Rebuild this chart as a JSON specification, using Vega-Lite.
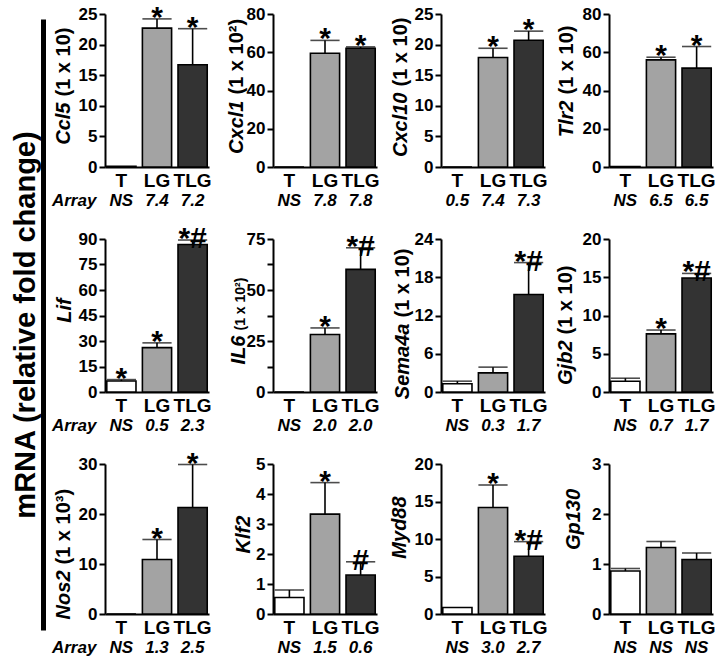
{
"$schema":"https://vega.github.io/schema/vega-lite/v6.json",
"padding":{"left":10,"top":2,"right":0,"bottom":0},
"datasets":{"d":[
{"gene":"Ccl5","group":"T","mean":0.12,"upper":0.12,"star":"","array":"NS"},
{"gene":"Ccl5","group":"LG","mean":22.7,"upper":24.2,"star":"*","array":"7.4"},
{"gene":"Ccl5","group":"TLG","mean":16.7,"upper":22.6,"star":"*","array":"7.2"},
{"gene":"Cxcl1","group":"T","mean":0,"upper":0,"star":"","array":"NS"},
{"gene":"Cxcl1","group":"LG","mean":59.5,"upper":66.2,"star":"*","array":"7.8"},
{"gene":"Cxcl1","group":"TLG","mean":62.1,"upper":62.8,"star":"*","array":"7.8"},
{"gene":"Cxcl10","group":"T","mean":0,"upper":0,"star":"","array":"0.5"},
{"gene":"Cxcl10","group":"LG","mean":17.9,"upper":19.4,"star":"*","array":"7.4"},
{"gene":"Cxcl10","group":"TLG","mean":20.7,"upper":22.2,"star":"*","array":"7.3"},
{"gene":"Tlr2","group":"T","mean":0.3,"upper":0.3,"star":"","array":"NS"},
{"gene":"Tlr2","group":"LG","mean":56,"upper":57.4,"star":"*","array":"6.5"},
{"gene":"Tlr2","group":"TLG","mean":51.7,"upper":63,"star":"*","array":"6.5"},
{"gene":"Lif","group":"T","mean":6.5,"upper":7.3,"star":"*","array":"NS"},
{"gene":"Lif","group":"LG","mean":26.1,"upper":28.9,"star":"*","array":"0.5"},
{"gene":"Lif","group":"TLG","mean":86.8,"upper":89.4,"star":"*#","array":"2.3"},
{"gene":"IL6","group":"T","mean":0,"upper":0,"star":"","array":"NS"},
{"gene":"IL6","group":"LG","mean":28.2,"upper":31.4,"star":"*","array":"2.0"},
{"gene":"IL6","group":"TLG","mean":60.1,"upper":70.7,"star":"*#","array":"2.0"},
{"gene":"Sema4a","group":"T","mean":1.3,"upper":1.7,"star":"","array":"NS"},
{"gene":"Sema4a","group":"LG","mean":3.0,"upper":3.9,"star":"","array":"0.3"},
{"gene":"Sema4a","group":"TLG","mean":15.3,"upper":20.3,"star":"*#","array":"1.7"},
{"gene":"Gjb2","group":"T","mean":1.4,"upper":1.8,"star":"","array":"NS"},
{"gene":"Gjb2","group":"LG","mean":7.6,"upper":8.1,"star":"*","array":"0.7"},
{"gene":"Gjb2","group":"TLG","mean":14.9,"upper":15.5,"star":"*#","array":"1.7"},
{"gene":"Nos2","group":"T","mean":0,"upper":0,"star":"","array":"NS"},
{"gene":"Nos2","group":"LG","mean":10.9,"upper":14.9,"star":"*","array":"1.3"},
{"gene":"Nos2","group":"TLG","mean":21.3,"upper":29.9,"star":"*","array":"2.5"},
{"gene":"Klf2","group":"T","mean":0.55,"upper":0.8,"star":"","array":"NS"},
{"gene":"Klf2","group":"LG","mean":3.33,"upper":4.38,"star":"*","array":"1.5"},
{"gene":"Klf2","group":"TLG","mean":1.3,"upper":1.74,"star":"#","array":"0.6"},
{"gene":"Myd88","group":"T","mean":0.87,"upper":0.87,"star":"","array":"NS"},
{"gene":"Myd88","group":"LG","mean":14.2,"upper":17.2,"star":"*","array":"3.0"},
{"gene":"Myd88","group":"TLG","mean":7.7,"upper":9.65,"star":"*#","array":"2.7"},
{"gene":"Gp130","group":"T","mean":0.86,"upper":0.91,"star":"","array":"NS"},
{"gene":"Gp130","group":"LG","mean":1.33,"upper":1.45,"star":"","array":"NS"},
{"gene":"Gp130","group":"TLG","mean":1.09,"upper":1.22,"star":"","array":"NS"}
]},
"data":{"name":"d"},
"spacing":7,
"hconcat":[
{"width":1,"height":616,
 "transform":[{"filter":"datum.gene === 'Ccl5' && datum.group === 'LG'"}],
 "mark":{"type":"rule","opacity":0},
 "encoding":{"y":{"field":"mean","type":"quantitative","scale":{"range":[616,5]},"axis":{"domainWidth":5,"labels":false,"ticks":false,"title":"mRNA (relative fold change)","titleFont":"Liberation Sans","titleFontSize":29,"titleFontWeight":"bold","titleBaseline":"bottom","titlePadding":3}}}
},
{"columns":4,"bounds":"flush","spacing":{"row":72,"column":64},
 "concat":[
{"width":104,"height":153,"transform":[{"filter":"datum.gene === 'Ccl5'"}],
 "encoding":{"x":{"field":"group","type":"nominal","sort":["T","LG","TLG"],"scale":{"paddingInner":0.18,"paddingOuter":0.05},"axis":{"title":null}}},
 "layer":[
  {"mark":{"type":"bar","stroke":"black","strokeWidth":1.6},"encoding":{"y":{"field":"mean","type":"quantitative","scale":{"domain":[0,25]},"axis":{"values":[0,5,10,15,20,25],"title":"Ccl5","titleFontStyle":"italic","titleX":-36,"titleY":88,"titleAlign":"right"}},"fill":{"field":"group","type":"nominal","scale":{"domain":["T","LG","TLG"],"range":["#ffffff","#a3a3a3","#333333"]},"legend":null}}},
  {"transform":[{"filter":"datum.upper > datum.mean"}],"mark":{"type":"rule","strokeWidth":1.6,"color":"black"},"encoding":{"y":{"field":"mean","type":"quantitative","scale":{"domain":[0,25]},"axis":{"orient":"left","title":"(1 x 10)","domain":false,"ticks":false,"labels":false,"titleX":-36,"titleY":82,"titleAlign":"left"}},"y2":{"field":"upper"}}},
  {"transform":[{"filter":"datum.upper > datum.mean"}],"mark":{"type":"tick","thickness":1.6,"color":"black"},"encoding":{"y":{"field":"upper","type":"quantitative","scale":{"domain":[0,25]},"axis":null}}},
  {"mark":{"type":"text","fontSize":30,"fontWeight":"bold","baseline":"alphabetic","dy":8},"encoding":{"y":{"field":"upper","type":"quantitative","scale":{"domain":[0,25]},"axis":null},"text":{"field":"star"}}},
  {"mark":{"type":"text","fontSize":17,"fontWeight":"bold","fontStyle":"italic","baseline":"middle","dy":34},"encoding":{"y":{"datum":0,"type":"quantitative","scale":{"domain":[0,25]},"axis":null},"text":{"field":"array"}}},
  {"transform":[{"filter":"datum.group === 'T'"}],"mark":{"type":"text","fontSize":17,"fontWeight":"bold","fontStyle":"italic","baseline":"middle","align":"right","dy":34,"dx":-25},"encoding":{"y":{"datum":0,"type":"quantitative","scale":{"domain":[0,25]},"axis":null},"text":{"value":"Array"}}}
 ],"resolve":{"axis":{"y":"independent"}}},
{"width":104,"height":153,"transform":[{"filter":"datum.gene === 'Cxcl1'"}],
 "encoding":{"x":{"field":"group","type":"nominal","sort":["T","LG","TLG"],"scale":{"paddingInner":0.18,"paddingOuter":0.05},"axis":{"title":null}}},
 "layer":[
  {"mark":{"type":"bar","stroke":"black","strokeWidth":1.6},"encoding":{"y":{"field":"mean","type":"quantitative","scale":{"domain":[0,80]},"axis":{"values":[0,20,40,60,80],"title":"Cxcl1","titleFontStyle":"italic","titleX":-31,"titleY":86,"titleAlign":"right"}},"fill":{"field":"group","type":"nominal","scale":{"domain":["T","LG","TLG"],"range":["#ffffff","#a3a3a3","#333333"]},"legend":null}}},
  {"transform":[{"filter":"datum.upper > datum.mean"}],"mark":{"type":"rule","strokeWidth":1.6,"color":"black"},"encoding":{"y":{"field":"mean","type":"quantitative","scale":{"domain":[0,80]},"axis":{"orient":"left","title":"(1 x 10²)","domain":false,"ticks":false,"labels":false,"titleX":-31,"titleY":80,"titleAlign":"left"}},"y2":{"field":"upper"}}},
  {"transform":[{"filter":"datum.upper > datum.mean"}],"mark":{"type":"tick","thickness":1.6,"color":"black"},"encoding":{"y":{"field":"upper","type":"quantitative","scale":{"domain":[0,80]},"axis":null}}},
  {"mark":{"type":"text","fontSize":30,"fontWeight":"bold","baseline":"alphabetic","dy":8},"encoding":{"y":{"field":"upper","type":"quantitative","scale":{"domain":[0,80]},"axis":null},"text":{"field":"star"}}},
  {"mark":{"type":"text","fontSize":17,"fontWeight":"bold","fontStyle":"italic","baseline":"middle","dy":34},"encoding":{"y":{"datum":0,"type":"quantitative","scale":{"domain":[0,80]},"axis":null},"text":{"field":"array"}}}
 ],"resolve":{"axis":{"y":"independent"}}},
{"width":104,"height":153,"transform":[{"filter":"datum.gene === 'Cxcl10'"}],
 "encoding":{"x":{"field":"group","type":"nominal","sort":["T","LG","TLG"],"scale":{"paddingInner":0.18,"paddingOuter":0.05},"axis":{"title":null}}},
 "layer":[
  {"mark":{"type":"bar","stroke":"black","strokeWidth":1.6},"encoding":{"y":{"field":"mean","type":"quantitative","scale":{"domain":[0,25]},"axis":{"values":[0,5,10,15,20,25],"title":"Cxcl10","titleFontStyle":"italic","titleX":-35,"titleY":78,"titleAlign":"right"}},"fill":{"field":"group","type":"nominal","scale":{"domain":["T","LG","TLG"],"range":["#ffffff","#a3a3a3","#333333"]},"legend":null}}},
  {"transform":[{"filter":"datum.upper > datum.mean"}],"mark":{"type":"rule","strokeWidth":1.6,"color":"black"},"encoding":{"y":{"field":"mean","type":"quantitative","scale":{"domain":[0,25]},"axis":{"orient":"left","title":"(1 x 10)","domain":false,"ticks":false,"labels":false,"titleX":-35,"titleY":72,"titleAlign":"left"}},"y2":{"field":"upper"}}},
  {"transform":[{"filter":"datum.upper > datum.mean"}],"mark":{"type":"tick","thickness":1.6,"color":"black"},"encoding":{"y":{"field":"upper","type":"quantitative","scale":{"domain":[0,25]},"axis":null}}},
  {"mark":{"type":"text","fontSize":30,"fontWeight":"bold","baseline":"alphabetic","dy":8},"encoding":{"y":{"field":"upper","type":"quantitative","scale":{"domain":[0,25]},"axis":null},"text":{"field":"star"}}},
  {"mark":{"type":"text","fontSize":17,"fontWeight":"bold","fontStyle":"italic","baseline":"middle","dy":34},"encoding":{"y":{"datum":0,"type":"quantitative","scale":{"domain":[0,25]},"axis":null},"text":{"field":"array"}}}
 ],"resolve":{"axis":{"y":"independent"}}},
{"width":104,"height":153,"transform":[{"filter":"datum.gene === 'Tlr2'"}],
 "encoding":{"x":{"field":"group","type":"nominal","sort":["T","LG","TLG"],"scale":{"paddingInner":0.18,"paddingOuter":0.05},"axis":{"title":null}}},
 "layer":[
  {"mark":{"type":"bar","stroke":"black","strokeWidth":1.6},"encoding":{"y":{"field":"mean","type":"quantitative","scale":{"domain":[0,80]},"axis":{"values":[0,20,40,60,80],"title":"Tlr2","titleFontStyle":"italic","titleX":-37,"titleY":86,"titleAlign":"right"}},"fill":{"field":"group","type":"nominal","scale":{"domain":["T","LG","TLG"],"range":["#ffffff","#a3a3a3","#333333"]},"legend":null}}},
  {"transform":[{"filter":"datum.upper > datum.mean"}],"mark":{"type":"rule","strokeWidth":1.6,"color":"black"},"encoding":{"y":{"field":"mean","type":"quantitative","scale":{"domain":[0,80]},"axis":{"orient":"left","title":"(1 x 10)","domain":false,"ticks":false,"labels":false,"titleX":-37,"titleY":80,"titleAlign":"left"}},"y2":{"field":"upper"}}},
  {"transform":[{"filter":"datum.upper > datum.mean"}],"mark":{"type":"tick","thickness":1.6,"color":"black"},"encoding":{"y":{"field":"upper","type":"quantitative","scale":{"domain":[0,80]},"axis":null}}},
  {"mark":{"type":"text","fontSize":30,"fontWeight":"bold","baseline":"alphabetic","dy":8},"encoding":{"y":{"field":"upper","type":"quantitative","scale":{"domain":[0,80]},"axis":null},"text":{"field":"star"}}},
  {"mark":{"type":"text","fontSize":17,"fontWeight":"bold","fontStyle":"italic","baseline":"middle","dy":34},"encoding":{"y":{"datum":0,"type":"quantitative","scale":{"domain":[0,80]},"axis":null},"text":{"field":"array"}}}
 ],"resolve":{"axis":{"y":"independent"}}},
{"width":104,"height":153,"transform":[{"filter":"datum.gene === 'Lif'"}],
 "encoding":{"x":{"field":"group","type":"nominal","sort":["T","LG","TLG"],"scale":{"paddingInner":0.18,"paddingOuter":0.05},"axis":{"title":null}}},
 "layer":[
  {"mark":{"type":"bar","stroke":"black","strokeWidth":1.6},"encoding":{"y":{"field":"mean","type":"quantitative","scale":{"domain":[0,90]},"axis":{"values":[0,15,30,45,60,75,90],"title":"Lif","titleFontStyle":"italic","titleX":-35,"titleY":71,"titleAlign":"center"}},"fill":{"field":"group","type":"nominal","scale":{"domain":["T","LG","TLG"],"range":["#ffffff","#a3a3a3","#333333"]},"legend":null}}},
  {"transform":[{"filter":"datum.upper > datum.mean"}],"mark":{"type":"rule","strokeWidth":1.6,"color":"black"},"encoding":{"y":{"field":"mean","type":"quantitative","scale":{"domain":[0,90]},"axis":null},"y2":{"field":"upper"}}},
  {"transform":[{"filter":"datum.upper > datum.mean"}],"mark":{"type":"tick","thickness":1.6,"color":"black"},"encoding":{"y":{"field":"upper","type":"quantitative","scale":{"domain":[0,90]},"axis":null}}},
  {"mark":{"type":"text","fontSize":30,"fontWeight":"bold","baseline":"alphabetic","dy":8},"encoding":{"y":{"field":"upper","type":"quantitative","scale":{"domain":[0,90]},"axis":null},"text":{"field":"star"}}},
  {"mark":{"type":"text","fontSize":17,"fontWeight":"bold","fontStyle":"italic","baseline":"middle","dy":34},"encoding":{"y":{"datum":0,"type":"quantitative","scale":{"domain":[0,90]},"axis":null},"text":{"field":"array"}}},
  {"transform":[{"filter":"datum.group === 'T'"}],"mark":{"type":"text","fontSize":17,"fontWeight":"bold","fontStyle":"italic","baseline":"middle","align":"right","dy":34,"dx":-25},"encoding":{"y":{"datum":0,"type":"quantitative","scale":{"domain":[0,90]},"axis":null},"text":{"value":"Array"}}}
 ],"resolve":{"axis":{"y":"independent"}}},
{"width":104,"height":153,"transform":[{"filter":"datum.gene === 'IL6'"}],
 "encoding":{"x":{"field":"group","type":"nominal","sort":["T","LG","TLG"],"scale":{"paddingInner":0.18,"paddingOuter":0.05},"axis":{"title":null}}},
 "layer":[
  {"mark":{"type":"bar","stroke":"black","strokeWidth":1.6},"encoding":{"y":{"field":"mean","type":"quantitative","scale":{"domain":[0,75]},"axis":{"values":[0,12.5,25,37.5,50,62.5,75],"labelExpr":"datum.value % 25 === 0 ? datum.label : ''","title":"IL6","titleFontStyle":"italic","titleX":-29,"titleY":96,"titleAlign":"right"}},"fill":{"field":"group","type":"nominal","scale":{"domain":["T","LG","TLG"],"range":["#ffffff","#a3a3a3","#333333"]},"legend":null}}},
  {"transform":[{"filter":"datum.upper > datum.mean"}],"mark":{"type":"rule","strokeWidth":1.6,"color":"black"},"encoding":{"y":{"field":"mean","type":"quantitative","scale":{"domain":[0,75]},"axis":{"orient":"left","title":"(1 x 10²)","titleFontSize":14,"domain":false,"ticks":false,"labels":false,"titleX":-29,"titleY":91,"titleAlign":"left"}},"y2":{"field":"upper"}}},
  {"transform":[{"filter":"datum.upper > datum.mean"}],"mark":{"type":"tick","thickness":1.6,"color":"black"},"encoding":{"y":{"field":"upper","type":"quantitative","scale":{"domain":[0,75]},"axis":null}}},
  {"mark":{"type":"text","fontSize":30,"fontWeight":"bold","baseline":"alphabetic","dy":8},"encoding":{"y":{"field":"upper","type":"quantitative","scale":{"domain":[0,75]},"axis":null},"text":{"field":"star"}}},
  {"mark":{"type":"text","fontSize":17,"fontWeight":"bold","fontStyle":"italic","baseline":"middle","dy":34},"encoding":{"y":{"datum":0,"type":"quantitative","scale":{"domain":[0,75]},"axis":null},"text":{"field":"array"}}}
 ],"resolve":{"axis":{"y":"independent"}}},
{"width":104,"height":153,"transform":[{"filter":"datum.gene === 'Sema4a'"}],
 "encoding":{"x":{"field":"group","type":"nominal","sort":["T","LG","TLG"],"scale":{"paddingInner":0.18,"paddingOuter":0.05},"axis":{"title":null}}},
 "layer":[
  {"mark":{"type":"bar","stroke":"black","strokeWidth":1.6},"encoding":{"y":{"field":"mean","type":"quantitative","scale":{"domain":[0,24]},"axis":{"values":[0,6,12,18,24],"title":"Sema4a","titleFontStyle":"italic","titleX":-33,"titleY":84,"titleAlign":"right"}},"fill":{"field":"group","type":"nominal","scale":{"domain":["T","LG","TLG"],"range":["#ffffff","#a3a3a3","#333333"]},"legend":null}}},
  {"transform":[{"filter":"datum.upper > datum.mean"}],"mark":{"type":"rule","strokeWidth":1.6,"color":"black"},"encoding":{"y":{"field":"mean","type":"quantitative","scale":{"domain":[0,24]},"axis":{"orient":"left","title":"(1 x 10)","domain":false,"ticks":false,"labels":false,"titleX":-33,"titleY":78,"titleAlign":"left"}},"y2":{"field":"upper"}}},
  {"transform":[{"filter":"datum.upper > datum.mean"}],"mark":{"type":"tick","thickness":1.6,"color":"black"},"encoding":{"y":{"field":"upper","type":"quantitative","scale":{"domain":[0,24]},"axis":null}}},
  {"mark":{"type":"text","fontSize":30,"fontWeight":"bold","baseline":"alphabetic","dy":8},"encoding":{"y":{"field":"upper","type":"quantitative","scale":{"domain":[0,24]},"axis":null},"text":{"field":"star"}}},
  {"mark":{"type":"text","fontSize":17,"fontWeight":"bold","fontStyle":"italic","baseline":"middle","dy":34},"encoding":{"y":{"datum":0,"type":"quantitative","scale":{"domain":[0,24]},"axis":null},"text":{"field":"array"}}}
 ],"resolve":{"axis":{"y":"independent"}}},
{"width":104,"height":153,"transform":[{"filter":"datum.gene === 'Gjb2'"}],
 "encoding":{"x":{"field":"group","type":"nominal","sort":["T","LG","TLG"],"scale":{"paddingInner":0.18,"paddingOuter":0.05},"axis":{"title":null}}},
 "layer":[
  {"mark":{"type":"bar","stroke":"black","strokeWidth":1.6},"encoding":{"y":{"field":"mean","type":"quantitative","scale":{"domain":[0,20]},"axis":{"values":[0,5,10,15,20],"title":"Gjb2","titleFontStyle":"italic","titleX":-38,"titleY":101,"titleAlign":"right"}},"fill":{"field":"group","type":"nominal","scale":{"domain":["T","LG","TLG"],"range":["#ffffff","#a3a3a3","#333333"]},"legend":null}}},
  {"transform":[{"filter":"datum.upper > datum.mean"}],"mark":{"type":"rule","strokeWidth":1.6,"color":"black"},"encoding":{"y":{"field":"mean","type":"quantitative","scale":{"domain":[0,20]},"axis":{"orient":"left","title":"(1 x 10)","domain":false,"ticks":false,"labels":false,"titleX":-38,"titleY":95,"titleAlign":"left"}},"y2":{"field":"upper"}}},
  {"transform":[{"filter":"datum.upper > datum.mean"}],"mark":{"type":"tick","thickness":1.6,"color":"black"},"encoding":{"y":{"field":"upper","type":"quantitative","scale":{"domain":[0,20]},"axis":null}}},
  {"mark":{"type":"text","fontSize":30,"fontWeight":"bold","baseline":"alphabetic","dy":8},"encoding":{"y":{"field":"upper","type":"quantitative","scale":{"domain":[0,20]},"axis":null},"text":{"field":"star"}}},
  {"mark":{"type":"text","fontSize":17,"fontWeight":"bold","fontStyle":"italic","baseline":"middle","dy":34},"encoding":{"y":{"datum":0,"type":"quantitative","scale":{"domain":[0,20]},"axis":null},"text":{"field":"array"}}}
 ],"resolve":{"axis":{"y":"independent"}}},
{"width":104,"height":150,"transform":[{"filter":"datum.gene === 'Nos2'"}],
 "encoding":{"x":{"field":"group","type":"nominal","sort":["T","LG","TLG"],"scale":{"paddingInner":0.18,"paddingOuter":0.05},"axis":{"title":null}}},
 "layer":[
  {"mark":{"type":"bar","stroke":"black","strokeWidth":1.6},"encoding":{"y":{"field":"mean","type":"quantitative","scale":{"domain":[0,30]},"axis":{"values":[0,10,20,30],"title":"Nos2","titleFontStyle":"italic","titleX":-36,"titleY":106,"titleAlign":"right"}},"fill":{"field":"group","type":"nominal","scale":{"domain":["T","LG","TLG"],"range":["#ffffff","#a3a3a3","#333333"]},"legend":null}}},
  {"transform":[{"filter":"datum.upper > datum.mean"}],"mark":{"type":"rule","strokeWidth":1.6,"color":"black"},"encoding":{"y":{"field":"mean","type":"quantitative","scale":{"domain":[0,30]},"axis":{"orient":"left","title":"(1 x 10³)","domain":false,"ticks":false,"labels":false,"titleX":-36,"titleY":100,"titleAlign":"left"}},"y2":{"field":"upper"}}},
  {"transform":[{"filter":"datum.upper > datum.mean"}],"mark":{"type":"tick","thickness":1.6,"color":"black"},"encoding":{"y":{"field":"upper","type":"quantitative","scale":{"domain":[0,30]},"axis":null}}},
  {"mark":{"type":"text","fontSize":30,"fontWeight":"bold","baseline":"alphabetic","dy":8},"encoding":{"y":{"field":"upper","type":"quantitative","scale":{"domain":[0,30]},"axis":null},"text":{"field":"star"}}},
  {"mark":{"type":"text","fontSize":17,"fontWeight":"bold","fontStyle":"italic","baseline":"middle","dy":34},"encoding":{"y":{"datum":0,"type":"quantitative","scale":{"domain":[0,30]},"axis":null},"text":{"field":"array"}}},
  {"transform":[{"filter":"datum.group === 'T'"}],"mark":{"type":"text","fontSize":17,"fontWeight":"bold","fontStyle":"italic","baseline":"middle","align":"right","dy":34,"dx":-25},"encoding":{"y":{"datum":0,"type":"quantitative","scale":{"domain":[0,30]},"axis":null},"text":{"value":"Array"}}}
 ],"resolve":{"axis":{"y":"independent"}}},
{"width":104,"height":150,"transform":[{"filter":"datum.gene === 'Klf2'"}],
 "encoding":{"x":{"field":"group","type":"nominal","sort":["T","LG","TLG"],"scale":{"paddingInner":0.18,"paddingOuter":0.05},"axis":{"title":null}}},
 "layer":[
  {"mark":{"type":"bar","stroke":"black","strokeWidth":1.6},"encoding":{"y":{"field":"mean","type":"quantitative","scale":{"domain":[0,5]},"axis":{"values":[0,1,2,3,4,5],"title":"Klf2","titleFontStyle":"italic","titleX":-24,"titleY":70,"titleAlign":"center"}},"fill":{"field":"group","type":"nominal","scale":{"domain":["T","LG","TLG"],"range":["#ffffff","#a3a3a3","#333333"]},"legend":null}}},
  {"transform":[{"filter":"datum.upper > datum.mean"}],"mark":{"type":"rule","strokeWidth":1.6,"color":"black"},"encoding":{"y":{"field":"mean","type":"quantitative","scale":{"domain":[0,5]},"axis":null},"y2":{"field":"upper"}}},
  {"transform":[{"filter":"datum.upper > datum.mean"}],"mark":{"type":"tick","thickness":1.6,"color":"black"},"encoding":{"y":{"field":"upper","type":"quantitative","scale":{"domain":[0,5]},"axis":null}}},
  {"mark":{"type":"text","fontSize":30,"fontWeight":"bold","baseline":"alphabetic","dy":8},"encoding":{"y":{"field":"upper","type":"quantitative","scale":{"domain":[0,5]},"axis":null},"text":{"field":"star"}}},
  {"mark":{"type":"text","fontSize":17,"fontWeight":"bold","fontStyle":"italic","baseline":"middle","dy":34},"encoding":{"y":{"datum":0,"type":"quantitative","scale":{"domain":[0,5]},"axis":null},"text":{"field":"array"}}}
 ],"resolve":{"axis":{"y":"independent"}}},
{"width":104,"height":150,"transform":[{"filter":"datum.gene === 'Myd88'"}],
 "encoding":{"x":{"field":"group","type":"nominal","sort":["T","LG","TLG"],"scale":{"paddingInner":0.18,"paddingOuter":0.05},"axis":{"title":null}}},
 "layer":[
  {"mark":{"type":"bar","stroke":"black","strokeWidth":1.6},"encoding":{"y":{"field":"mean","type":"quantitative","scale":{"domain":[0,20]},"axis":{"values":[0,5,10,15,20],"title":"Myd88","titleFontStyle":"italic","titleX":-36,"titleY":63,"titleAlign":"center"}},"fill":{"field":"group","type":"nominal","scale":{"domain":["T","LG","TLG"],"range":["#ffffff","#a3a3a3","#333333"]},"legend":null}}},
  {"transform":[{"filter":"datum.upper > datum.mean"}],"mark":{"type":"rule","strokeWidth":1.6,"color":"black"},"encoding":{"y":{"field":"mean","type":"quantitative","scale":{"domain":[0,20]},"axis":null},"y2":{"field":"upper"}}},
  {"transform":[{"filter":"datum.upper > datum.mean"}],"mark":{"type":"tick","thickness":1.6,"color":"black"},"encoding":{"y":{"field":"upper","type":"quantitative","scale":{"domain":[0,20]},"axis":null}}},
  {"mark":{"type":"text","fontSize":30,"fontWeight":"bold","baseline":"alphabetic","dy":8},"encoding":{"y":{"field":"upper","type":"quantitative","scale":{"domain":[0,20]},"axis":null},"text":{"field":"star"}}},
  {"mark":{"type":"text","fontSize":17,"fontWeight":"bold","fontStyle":"italic","baseline":"middle","dy":34},"encoding":{"y":{"datum":0,"type":"quantitative","scale":{"domain":[0,20]},"axis":null},"text":{"field":"array"}}}
 ],"resolve":{"axis":{"y":"independent"}}},
{"width":104,"height":150,"transform":[{"filter":"datum.gene === 'Gp130'"}],
 "encoding":{"x":{"field":"group","type":"nominal","sort":["T","LG","TLG"],"scale":{"paddingInner":0.18,"paddingOuter":0.05},"axis":{"title":null}}},
 "layer":[
  {"mark":{"type":"bar","stroke":"black","strokeWidth":1.6},"encoding":{"y":{"field":"mean","type":"quantitative","scale":{"domain":[0,3]},"axis":{"values":[0,1,2,3],"title":"Gp130","titleFontStyle":"italic","titleX":-30,"titleY":55,"titleAlign":"center"}},"fill":{"field":"group","type":"nominal","scale":{"domain":["T","LG","TLG"],"range":["#ffffff","#a3a3a3","#333333"]},"legend":null}}},
  {"transform":[{"filter":"datum.upper > datum.mean"}],"mark":{"type":"rule","strokeWidth":1.6,"color":"black"},"encoding":{"y":{"field":"mean","type":"quantitative","scale":{"domain":[0,3]},"axis":null},"y2":{"field":"upper"}}},
  {"transform":[{"filter":"datum.upper > datum.mean"}],"mark":{"type":"tick","thickness":1.6,"color":"black"},"encoding":{"y":{"field":"upper","type":"quantitative","scale":{"domain":[0,3]},"axis":null}}},
  {"mark":{"type":"text","fontSize":30,"fontWeight":"bold","baseline":"alphabetic","dy":8},"encoding":{"y":{"field":"upper","type":"quantitative","scale":{"domain":[0,3]},"axis":null},"text":{"field":"star"}}},
  {"mark":{"type":"text","fontSize":17,"fontWeight":"bold","fontStyle":"italic","baseline":"middle","dy":34},"encoding":{"y":{"datum":0,"type":"quantitative","scale":{"domain":[0,3]},"axis":null},"text":{"field":"array"}}}
 ],"resolve":{"axis":{"y":"independent"}}}
 ]}
],
"config":{
 "view":{"stroke":null},
 "font":"Liberation Sans",
 "axis":{"domainColor":"black","domainWidth":2,"tickColor":"black","tickWidth":2,"tickSize":6,"labelFont":"Liberation Sans","labelFontWeight":"bold","labelFontSize":17,"labelColor":"black","labelPadding":2,"titleFont":"Liberation Sans","titleFontWeight":"bold","titleFontSize":20,"titleColor":"black","grid":false},
 "axisY":{"titleAngle":270,"titleBaseline":"alphabetic"},
 "axisX":{"labelAngle":0,"ticks":false,"labelFontSize":19,"labelPadding":4},
 "tick":{"bandSize":20},
 "text":{"font":"Liberation Sans","color":"black"}
}
}
